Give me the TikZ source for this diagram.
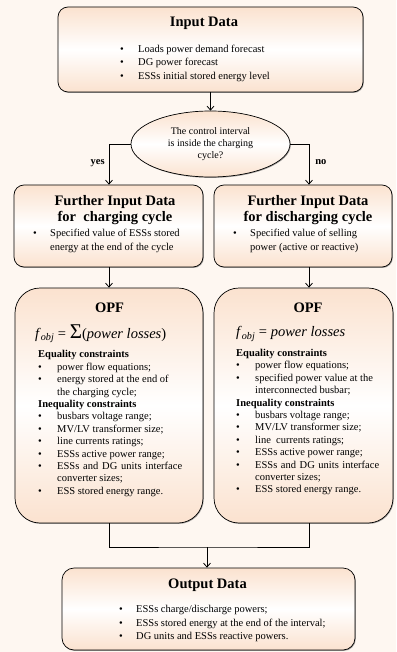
\documentclass[tikz,border=0pt]{standalone}
\usepackage{fontspec}
\setmainfont{Liberation Serif}
\usetikzlibrary{arrows.meta,shapes.geometric,shadows}
\definecolor{peach}{RGB}{251,226,207}
\definecolor{bgc}{RGB}{254,247,241}
\newcommand{\bu}[1]{\makebox[#1][l]{\textbullet}}
\begin{document}
\begin{tikzpicture}[x=1pt,y=-1pt,
  box/.style={draw=black, line width=0.7pt, top color=peach, bottom color=peach, middle color=white, inner sep=0pt,
    drop shadow={shadow xshift=0.8pt,shadow yshift=-0.9pt,opacity=0.5,fill=black!70}},
  arr/.style={-{Straight Barb[length=4pt,width=7pt,line width=0.8pt]}, line width=0.6pt},
  ln/.style={line width=0.6pt},
  ttl/.style={font=\fontsize{14.5}{16}\selectfont\bfseries, inner sep=0pt, align=center},
  body/.style={font=\fontsize{10.5}{13.5}\selectfont, align=left, inner sep=0pt, anchor=north west},
  cons/.style={font=\fontsize{10.5}{12.4}\selectfont, align=left, inner sep=0pt, anchor=north west},
  lab/.style={font=\fontsize{10.5}{12}\selectfont\bfseries, inner sep=0pt},
  fob/.style={font=\fontsize{14.5}{16}\selectfont, inner sep=0pt, anchor=west}
]
\path[fill=bgc] (0,0) rectangle (396,652);
\useasboundingbox (0,0) rectangle (396,652);

% boxes
\node[box, rounded corners=10pt, minimum width=305pt, minimum height=85pt] (inp) at (210.5,49.5) {};
\node[box, ellipse, minimum width=159pt, minimum height=66pt, font=\fontsize{10}{12}\selectfont, align=center] (dec) at (210.5,144) {The control interval\\is inside the charging\\cycle?};
\node[box, rounded corners=10pt, minimum width=189pt, minimum height=82pt] (fc) at (108.5,226) {};
\node[box, rounded corners=10pt, minimum width=178pt, minimum height=82pt] (fd) at (303,226) {};
\node[box, rounded corners=25pt, minimum width=188pt, minimum height=235pt] (opfl) at (109,405.5) {};
\node[box, rounded corners=25pt, minimum width=179pt, minimum height=235pt] (opfr) at (303.5,405.5) {};
\node[box, rounded corners=12pt, minimum width=293pt, minimum height=82pt] (out) at (208.5,609) {};

% input data text
\node[ttl] (inpt) at (204,23) {Input Data};
\node[body] (inpb) at (120,44.5) {\bu{18pt}Loads power demand forecast\\\bu{18pt}DG power forecast\\\bu{18pt}ESSs initial stored energy level};

% further input
\node[ttl] (fct) at (115,210) {Further Input Data\\for\ \ charging cycle};
\node[body, font=\fontsize{10.5}{14}\selectfont] (fcb) at (33,228.5) {\bu{17pt}Specified value of ESSs stored\\\hspace*{17pt}energy at the end of the cycle};
\node[ttl] (fdt) at (308,210) {Further Input Data\\for discharging cycle};
\node[body, font=\fontsize{10.5}{14}\selectfont] (fdb) at (233,228.5) {\bu{17pt}Specified value of selling\\\hspace*{17pt}power (active or reactive)};

% OPF left
\node[ttl] (opflt) at (109.5,308) {OPF};
\node[fob] (opflf) at (35,334) {\textit{f}\textsubscript{\textit{obj}} = {\fontsize{21}{21}\selectfont Σ}(\textit{power losses})};
\node[cons] (opflc) at (38,350.5) {\textbf{Equality constraints}\\
\bu{19pt}power flow equations;\\
\bu{19pt}energy stored at the end of\\
\hspace*{19pt}the charging cycle;\\
\textbf{Inequality constraints}\\
\bu{19pt}busbars voltage range;\\
\bu{19pt}MV/LV transformer size;\\
\bu{19pt}line currents ratings;\\
\bu{19pt}ESSs active power range;\\
\bu{19pt}\makebox[125pt][s]{ESSs and DG units interface}\\
\hspace*{19pt}converter sizes;\\
\bu{19pt}ESS stored energy range.};

% OPF right
\node[ttl] (opfrt) at (308,308) {OPF};
\node[fob] (opfrf) at (236,334) {\textit{f}\textsubscript{\textit{obj}} = \textit{power losses}};
\node[cons] (opfrc) at (236,349) {\textbf{Equality constraints}\\
\bu{19pt}power flow equations;\\
\bu{19pt}specified power value at the\\
\hspace*{19pt}interconnected busbar;\\
\textbf{Inequality constraints}\\
\bu{19pt}busbars voltage range;\\
\bu{19pt}MV/LV transformer size;\\
\bu{19pt}line\ \ currents ratings;\\
\bu{19pt}ESSs active power range;\\
\bu{19pt}\makebox[124pt][s]{ESSs and DG units interface}\\
\hspace*{19pt}converter sizes;\\
\bu{19pt}ESS stored energy range.};

% output
\node[ttl] (outt) at (207.5,585) {Output Data};
\node[body] (outb) at (119,605.5) {\bu{17pt}ESSs charge/discharge powers;\\\bu{17pt}ESSs stored energy at the end of the interval;\\\bu{17pt}DG units and ESSs reactive powers.};

% connectors
\coordinate (lx) at (109,0);
\coordinate (rx) at (309,0);
\coordinate (jn) at (207,547);
\draw[arr] (inp.south) -- (dec.north);
\draw[arr] (dec.west) -| node[lab, pos=0.74, left, xshift=-4pt] (yes) {yes} (lx |- fc.north);
\draw[arr] (dec.east) -| node[lab, pos=0.72, right, xshift=6pt] (no) {no} (rx |- fd.north);
\draw[arr] (lx |- fc.south) -- (lx |- opfl.north);
\draw[arr] (rx |- fd.south) -- (rx |- opfr.north);
\draw[ln] (lx |- opfl.south) |- (jn) -| (rx |- opfr.south);
\draw[arr] (jn) -- (jn |- out.north);
\end{tikzpicture}
\end{document}
